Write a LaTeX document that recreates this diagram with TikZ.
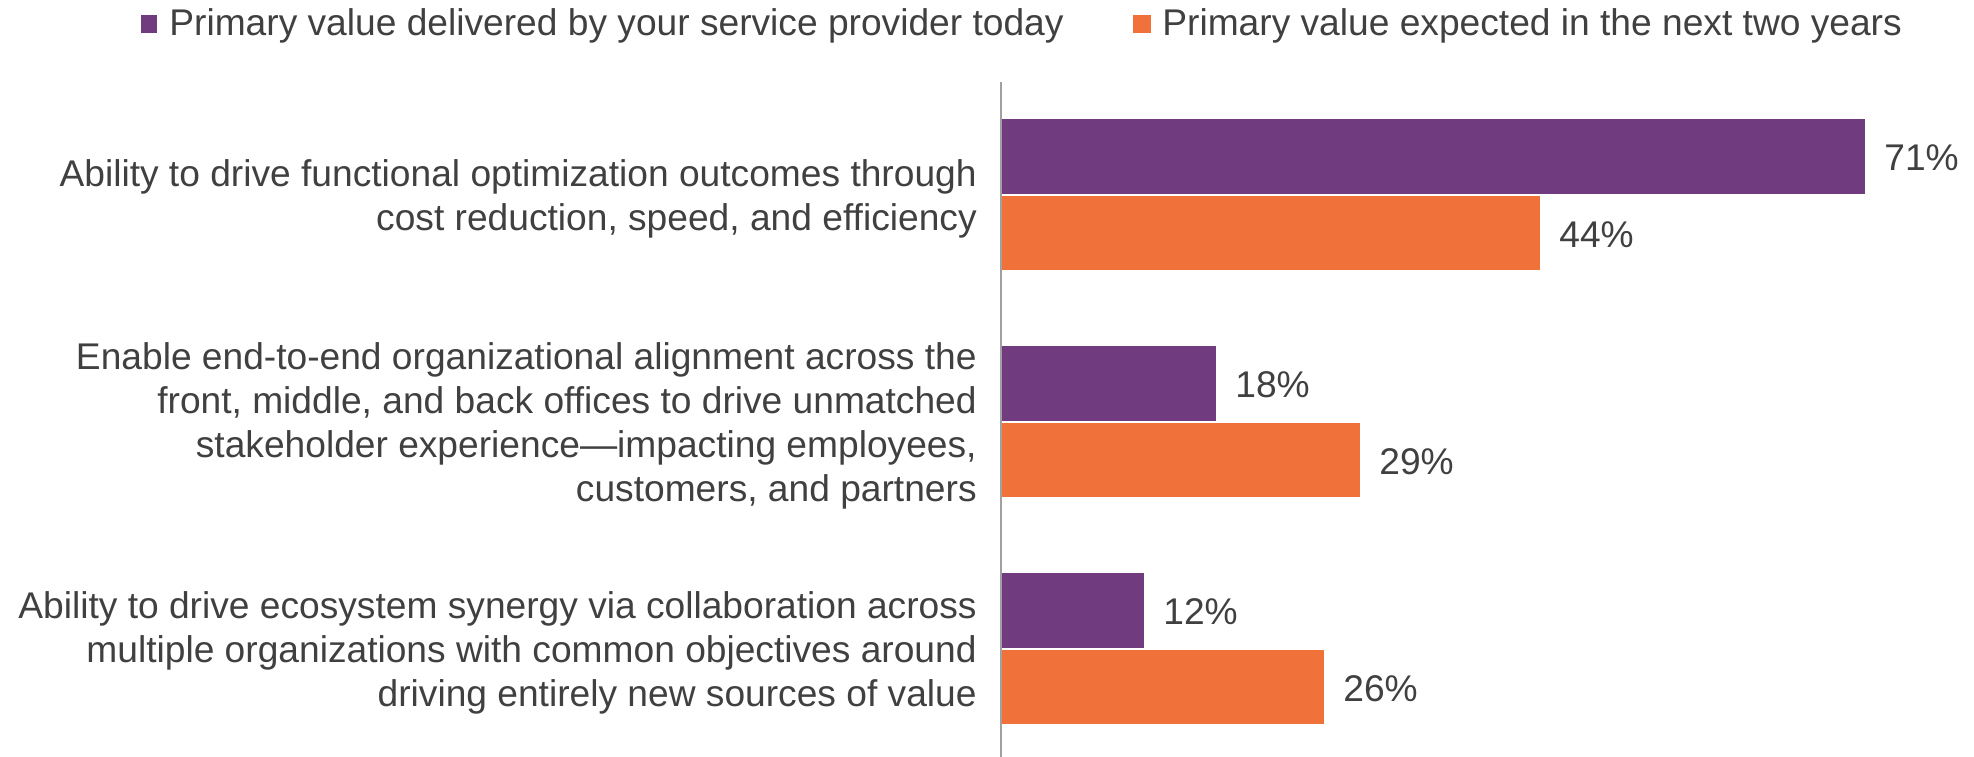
\documentclass[tikz,border=0pt]{standalone}
\usepackage{fontspec}
\setmainfont{Liberation Sans}
\usetikzlibrary{positioning}
\definecolor{todaypurple}{RGB}{113,59,127}
\definecolor{nextorange}{RGB}{240,114,58}
\definecolor{textgray}{RGB}{64,64,64}
\definecolor{axisgray}{RGB}{160,160,160}

\begin{document}
\begin{tikzpicture}
      [
        x = 0.02cm, y = -0.02cm,
        every node/.style = {text=textgray, inner sep=0pt, font=\fontsize{21.15}{25}\selectfont},
        catlabel/.style = {anchor=east, align=right},
        vallabel/.style = {right=0.38cm of #1}
      ]

      \useasboundingbox (0,0) rectangle (1974,757);

      % legend
      \fill[todaypurple] (141,15) rectangle (157,33);
      \node[anchor=base west] (legtoday) at (169,36) {Primary value delivered by your service provider today};
      \fill[nextorange] (1133,15) rectangle (1151,33);
      \node[anchor=base west] (legnext) at (1162,36) {Primary value expected in the next two years};

      % bars
      \fill[todaypurple] (1002,119) rectangle (1865,194);
      \fill[nextorange] (1002,196) rectangle (1540,270);
      \fill[todaypurple] (1002,346) rectangle (1216,421);
      \fill[nextorange] (1002,423) rectangle (1360,497);
      \fill[todaypurple] (1002,573) rectangle (1144,648);
      \fill[nextorange] (1002,650) rectangle (1324,724);

      \coordinate (endtoday1) at (1865,158);
      \coordinate (endnext1) at (1540,235);
      \coordinate (endtoday2) at (1216,385);
      \coordinate (endnext2) at (1360,462);
      \coordinate (endtoday3) at (1144,612);
      \coordinate (endnext3) at (1324,689);

      \node[vallabel=endtoday1] (valtoday1) {71\%};
      \node[vallabel=endnext1] (valnext1) {44\%};
      \node[vallabel=endtoday2] (valtoday2) {18\%};
      \node[vallabel=endnext2] (valnext2) {29\%};
      \node[vallabel=endtoday3] (valtoday3) {12\%};
      \node[vallabel=endnext3] (valnext3) {26\%};

      % axis
      \coordinate (axistop) at (1001,82);
      \coordinate (axisbottom) at (1001,757);
      \draw[axisgray, line width=0.04cm] (axistop) -- (axisbottom);

      % categories
      \node[catlabel] (cat1) at (977,199) {Ability to drive functional optimization outcomes through\\cost reduction, speed, and efficiency};
      \node[catlabel] (cat2) at (977,426) {Enable end-to-end organizational alignment across the\\front, middle, and back offices to drive unmatched\\stakeholder experience---impacting employees,\\customers, and partners};
      \node[catlabel] (cat3) at (977,653) {Ability to drive ecosystem synergy via collaboration across\\multiple organizations with common objectives around\\driving entirely new sources of value};

    \end{tikzpicture}
\end{document}
